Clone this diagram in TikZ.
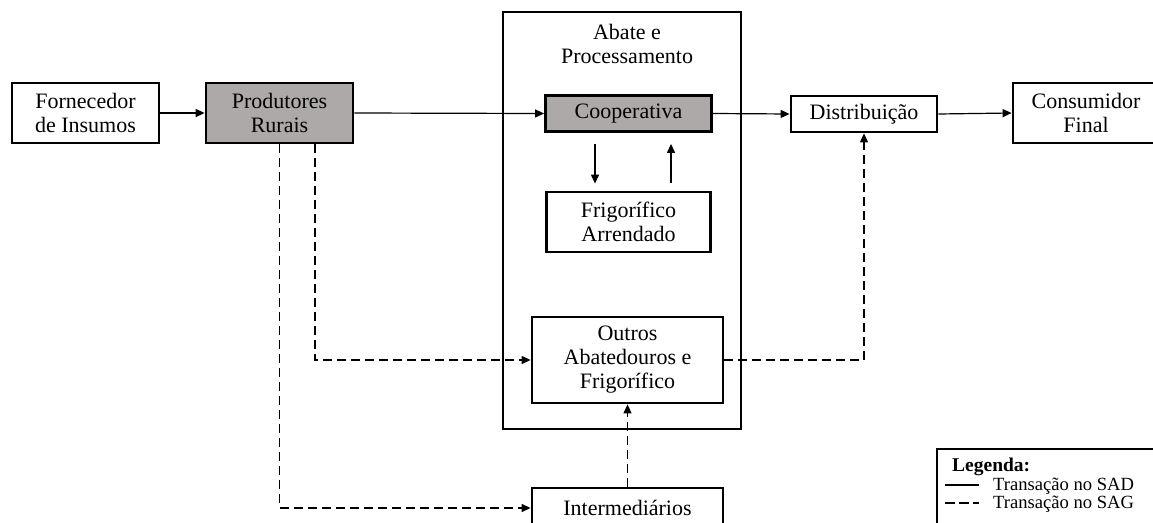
\documentclass[tikz,border=0pt]{standalone}
\usepackage{fontspec}
\setmainfont{Liberation Serif}
\usetikzlibrary{arrows.meta,calc}
\definecolor{boxgray}{RGB}{173,169,169}
\begin{document}
\begin{tikzpicture}[x=1pt,y=-1pt,
  every node/.style={font=\fontsize{22}{24}\selectfont, align=center, inner sep=0pt},
  box/.style={draw=black, line width=2.8pt, fill=white, rectangle},
  graybox/.style={box, fill=boxgray},
  conn/.style={line width=1.2pt, -{Triangle[length=9pt,width=8pt]}},
  dconn/.style={conn, dash pattern=on 9pt off 5pt},
  legtext/.style={anchor=base west, font=\fontsize{18.6}{18}\selectfont},
]
\useasboundingbox (0,0) rectangle (1153,522);
% big container
\draw[line width=1.1pt] (503,12) rectangle (741,429);
\node (abate) at (627,44) {Abate e\\Processamento};
% nodes
\node[box, minimum width=147pt, minimum height=60pt] (forn) at (85.5,113) {Fornecedor\\de Insumos};
\node[graybox, minimum width=147pt, minimum height=60pt] (prod) at (279.5,113) {Produtores\\Rurais};
\node[graybox, minimum width=166pt, minimum height=36pt] (coop) at (628.5,113.5) {Cooperativa};
\node[box, minimum width=164pt, minimum height=60pt] (frig) at (628.5,222) {Frigorífico\\Arrendado};
\node[box, minimum width=191pt, minimum height=86pt] (outros) at (627.5,360) {Outros\\Abatedouros e\\Frigorífico};
\node[box, minimum width=191pt, minimum height=40pt] (inter) at (627.5,508) {Intermediários};
\node[box, minimum width=146pt, minimum height=36pt] (dist) at (864,114) {Distribuição};
\node[box, minimum width=146pt, minimum height=60pt] (cons) at (1086,113) {Consumidor\\Final};
% solid connectors
\draw[conn] (forn.east) -- (prod.west);
\draw[conn] (prod.east) -- (coop.west);
\draw[conn] (coop.east) -- (dist.west);
\draw[conn] (dist.east) -- (cons.west);
\draw[conn, shorten <=11pt, shorten >=7pt] ([xshift=-33.5pt]coop.south) -- ([xshift=-33.5pt]frig.north);
\draw[conn, shorten <=8pt, shorten >=11pt] ([xshift=42.5pt]frig.north) -- ([xshift=42.5pt]coop.south);
% dashed connectors
\draw[dconn] ([xshift=35.5pt]prod.south) |- (outros.west);
\draw[dconn] (prod.south) |- (inter.west);
\draw[dconn] (inter.north) -- (outros.south);
\draw[dconn] (outros.east) -| (dist.south);
% legend
\draw[line width=2.8pt, fill=white] (937,449) rectangle (1165,535);
\node[legtext, font=\fontsize{19.5}{18}\selectfont\bfseries] (leg) at (952,471) {Legenda:};
\coordinate (s1a) at (945,485);
\coordinate (s1b) at (979,485);
\coordinate (s2a) at (945,503);
\coordinate (s2b) at (979,503);
\draw[line width=1.4pt] (s1a) -- (s1b);
\draw[line width=1.4pt, dash pattern=on 10pt off 4pt] (s2a) -- (s2b);
\node[legtext] (lsad) at (993,490) {Transação no SAD};
\node[legtext] (lsag) at (993,508.5) {Transação no SAG};
\end{tikzpicture}
\end{document}
